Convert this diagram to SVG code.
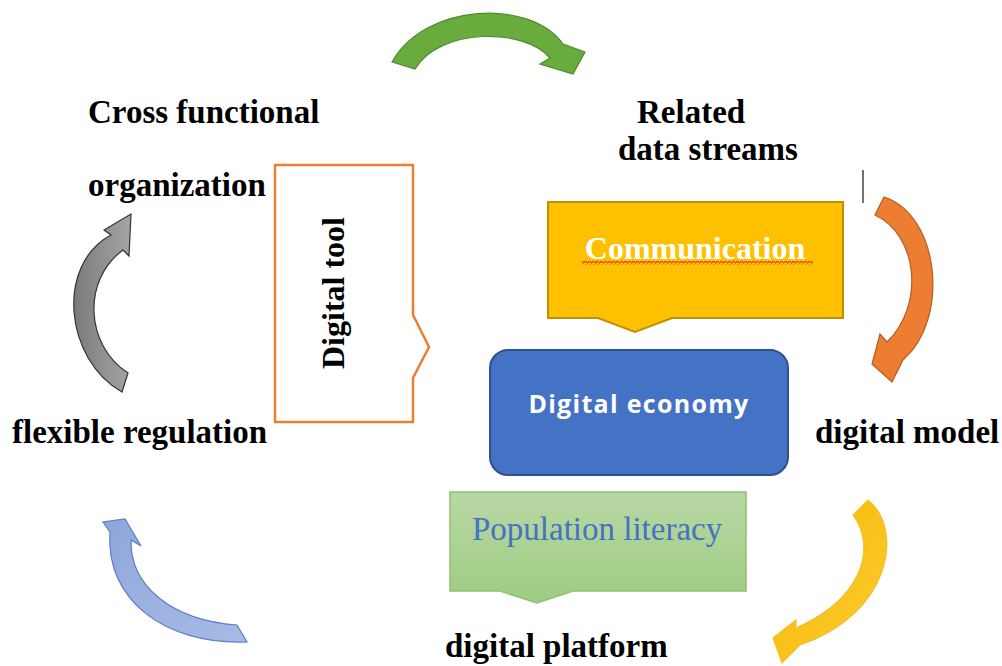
<svg xmlns="http://www.w3.org/2000/svg" width="1002" height="666" viewBox="0 0 1002 666">
<defs>
<style>
.lbl{font-family:"Liberation Serif","Times New Roman",serif;font-weight:bold;font-size:33px;fill:#000}
.arrow{stroke-width:1.2;stroke-linejoin:miter}
</style>
<linearGradient id="gGrey" x1="0" y1="0" x2="1" y2="0"><stop offset="0" stop-color="#7a7a7a"/><stop offset="1" stop-color="#a5a5a5"/></linearGradient>
<linearGradient id="gYellow" x1="0" y1="0" x2="1" y2="1"><stop offset="0" stop-color="#f2b800"/><stop offset="1" stop-color="#ffcc33"/></linearGradient>
<linearGradient id="gBlue" x1="0" y1="0" x2="1" y2="1"><stop offset="0" stop-color="#8ea7db"/><stop offset="1" stop-color="#a9bbe5"/></linearGradient>
<linearGradient id="gGreenBox" x1="0" y1="0" x2="0" y2="1"><stop offset="0" stop-color="#b8d8a4"/><stop offset="1" stop-color="#9ecb82"/></linearGradient>
<pattern id="wavy" x="0" y="0" width="4" height="4" patternUnits="userSpaceOnUse"><path d="M0,3 L1,1 L2,1 L3,3 L4,3" fill="none" stroke="#e8231a" stroke-width="1"/></pattern>
</defs>
<rect width="1002" height="666" fill="#fff"/>

<g id="connectors">
<path id="arrow-green" class="arrow" d="M392,62 C425,3 530,-2 563,44 L585,52 L573,74 L540,64 L550,58 C525,28 440,27 415,69 Z" fill="#6aab3e" stroke="#4f8a2c"/>
<path id="arrow-orange" class="arrow" d="M884,197 C940,215 950,320 903,360 L892,382 L872,364 L880,334 L887,342 C925,305 918,235 875,215 Z" fill="#ed7d31" stroke="#b35d22"/>
<path id="arrow-yellow" class="arrow" d="M868,500 C905,530 890,615 800,645 L782,663 L773,638 L796,620 L796,628 C860,600 878,550 853,515 Z" fill="url(#gYellow)" stroke="#f0c030"/>
<path id="arrow-blue" class="arrow" d="M247,642 C165,645 105,600 110,532 L103,522 L125,519 L141,546 L131,540 C130,585 170,620 237,625 Z" fill="url(#gBlue)" stroke="#5b7fc7"/>
<path id="arrow-grey" class="arrow" d="M122,392 C65,360 55,265 111,235 L104,230 L131,214 L129,256 L123,250 C82,280 85,345 128,373 Z" fill="url(#gGrey)" stroke="#333"/>
<line x1="863" y1="170" x2="863" y2="203" stroke="#444" stroke-width="1.5"/>
</g>

<g id="node-digital-tool">
<path d="M275,165 H413 V315 L429,347 L413,378 V422 H275 Z" fill="#fff" stroke="#ed7d31" stroke-width="2.5"/>
<text class="lbl" transform="translate(344,293) rotate(-90)" text-anchor="middle" style="font-size:32px">Digital tool</text>
</g>

<g id="node-communication">
<path d="M548,202 H843 V318 H672 L635,332 L598,318 H548 Z" fill="#ffc000" stroke="#bf9000" stroke-width="2"/>
<text class="lbl" x="695" y="259" text-anchor="middle" style="fill:#fff;font-size:32px">Communication</text>
<rect x="582" y="261" width="231" height="4" fill="url(#wavy)"/>
</g>

<g id="node-digital-economy">
<rect x="490" y="350" width="298" height="125" rx="18" ry="18" fill="#4472c4" stroke="#2f528f" stroke-width="2"/>
<text x="639" y="413" text-anchor="middle" font-family="'Open Sans','Liberation Sans',sans-serif" font-weight="bold" font-size="25" letter-spacing="1.3" fill="#fff">Digital economy</text>
</g>

<g id="node-population-literacy">
<path d="M450,492 H746 V591 H573 L537,603 L500,591 H450 Z" fill="url(#gGreenBox)" stroke="#8fc26f" stroke-width="1.5"/>
<text x="472" y="540" font-family="'Liberation Serif','Times New Roman',serif" font-size="33" fill="#4472c4">Population literacy</text>
</g>

<g id="label-cross-functional">
<text class="lbl" x="88" y="123">Cross functional</text>
<text class="lbl" x="88" y="196">organization</text>
</g>
<g id="label-related">
<text class="lbl" x="637" y="123">Related</text>
<text class="lbl" x="618" y="160">data streams</text>
</g>
<g id="label-flexible"><text class="lbl" x="12" y="443">flexible regulation</text></g>
<g id="label-digital-model"><text class="lbl" x="815" y="443">digital model</text></g>
<g id="label-digital-platform"><text class="lbl" x="445" y="657">digital platform</text></g>
</svg>
